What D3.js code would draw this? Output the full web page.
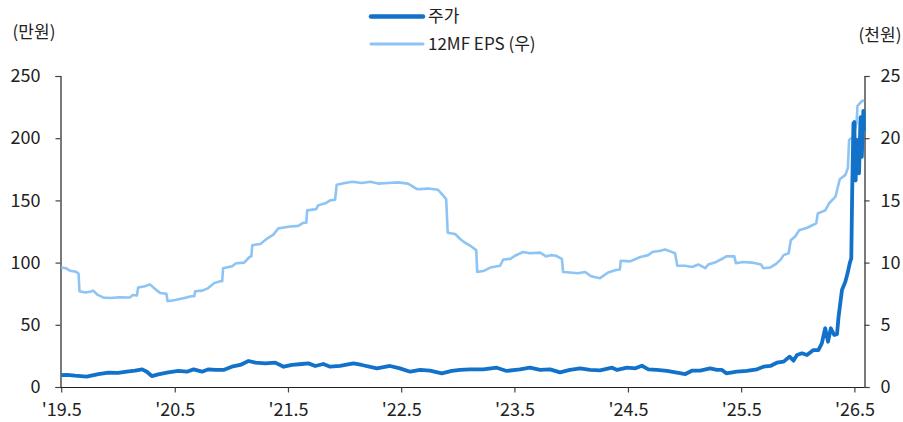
<!DOCTYPE html>
<html><head><meta charset="utf-8">
<script src="https://cdn.jsdelivr.net/npm/d3@7"></script>
<style>body{margin:0;background:#fff}svg{display:block}</style>
</head><body><svg id="c" width="903" height="422"></svg>
<script>
// ---- data ----
const seriesNames = ["주가", "12MF EPS (우)"];
const leftTitle = "(만원)";
const rightTitle = "(천원)";
const xTickDates = ["2019-05-01","2020-05-01","2021-05-01","2022-05-01","2023-05-01","2024-05-01","2025-05-01","2026-05-01"];
const xTickLabels = ["'19.5","'20.5","'21.5","'22.5","'23.5","'24.5","'25.5","'26.5"];
const leftTicks = [0,50,100,150,200,250];
const rightTicks = [0,5,10,15,20,25];

const priceDates = ["2019-05-01","2019-05-20","2019-06-14","2019-07-22","2019-08-29","2019-09-30","2019-11-01","2019-11-28","2019-12-25","2020-01-17","2020-02-01","2020-02-17","2020-03-09","2020-04-10","2020-05-13","2020-06-09","2020-07-01","2020-07-28","2020-08-18","2020-09-09","2020-10-05","2020-11-01","2020-11-28","2020-12-25","2021-01-16","2021-02-17","2021-03-21","2021-04-17","2021-05-14","2021-06-15","2021-07-06","2021-07-28","2021-08-23","2021-09-14","2021-10-16","2021-11-28","2021-12-25","2022-02-12","2022-03-26","2022-04-27","2022-05-30","2022-07-01","2022-08-02","2022-09-09","2022-10-11","2022-11-07","2022-12-09","2023-01-21","2023-03-05","2023-04-06","2023-05-19","2023-06-20","2023-07-23","2023-08-24","2023-09-25","2023-10-27","2023-11-29","2023-12-31","2024-02-01","2024-03-11","2024-03-27","2024-04-28","2024-05-25","2024-06-15","2024-07-06","2024-08-02","2024-09-04","2024-10-06","2024-11-02","2024-11-23","2024-12-20","2025-01-21","2025-02-12","2025-02-28","2025-03-14","2025-04-17","2025-05-19","2025-06-21","2025-07-12","2025-08-03","2025-08-24","2025-09-15","2025-10-04","2025-10-17","2025-10-28","2025-11-13","2025-11-29","2025-12-20","2026-01-05","2026-01-16","2026-01-27","2026-02-05","2026-02-14","2026-02-25","2026-03-06","2026-03-11","2026-03-22","2026-04-02","2026-04-09","2026-04-16","2026-04-21","2026-04-24","2026-04-28","2026-05-01","2026-05-03","2026-05-05","2026-05-08","2026-05-10","2026-05-13","2026-05-16","2026-05-19","2026-05-21","2026-05-23","2026-05-25","2026-05-28","2026-05-30","2026-06-01"];
const priceValues = [9.6,9.8,9.1,8.3,10.4,11.5,11.3,12.3,13.1,14.2,12.3,8.8,10.2,11.8,12.9,12.3,14.2,12.3,14.2,13.7,13.7,16.3,17.7,20.9,19.6,19.0,19.6,16.3,17.7,18.5,19.0,16.9,18.5,16.3,16.9,19.0,17.7,15.0,16.9,15.0,12.3,13.7,13.1,11.0,12.9,13.7,14.2,14.2,15.5,12.9,14.2,15.5,13.7,14.2,11.8,13.7,15.0,13.7,13.4,15.5,13.7,15.5,15.0,17.1,14.2,13.7,12.9,11.5,10.4,13.1,13.1,15.0,13.7,13.7,11.0,12.3,12.9,14.2,16.3,16.9,19.5,20.4,24.4,21.2,25.7,27.1,25.7,29.7,29.7,35.1,47.2,36.4,47.2,41.8,42.5,56.5,78.0,84.7,91.4,99.4,103.5,158,212,213,175,166,190,198.6,180,171.8,200,217,195,185,210,222,206];

const epsDates = ["2019-05-01","2019-05-16","2019-05-29","2019-06-18","2019-06-26","2019-06-29","2019-07-17","2019-08-02","2019-08-12","2019-08-27","2019-09-13","2019-10-05","2019-11-06","2019-12-08","2019-12-18","2019-12-31","2020-01-04","2020-01-26","2020-02-11","2020-02-27","2020-03-15","2020-04-04","2020-04-08","2020-05-03","2020-06-01","2020-06-23","2020-07-03","2020-07-06","2020-07-29","2020-08-17","2020-09-05","2020-09-25","2020-10-01","2020-10-04","2020-11-02","2020-11-15","2020-12-11","2020-12-28","2021-01-03","2021-01-06","2021-02-01","2021-02-24","2021-03-15","2021-03-31","2021-04-13","2021-05-08","2021-06-03","2021-06-19","2021-06-29","2021-07-02","2021-07-31","2021-08-06","2021-09-01","2021-09-14","2021-09-30","2021-10-05","2021-11-01","2021-11-24","2021-12-26","2022-01-21","2022-02-16","2022-03-20","2022-04-21","2022-05-23","2022-06-08","2022-06-21","2022-07-27","2022-08-28","2022-09-13","2022-09-23","2022-09-28","2022-10-22","2022-11-07","2022-11-23","2022-12-13","2022-12-29","2023-01-01","2023-01-24","2023-02-12","2023-03-16","2023-03-26","2023-04-18","2023-05-03","2023-05-29","2023-06-20","2023-07-23","2023-08-11","2023-08-27","2023-09-12","2023-10-01","2023-10-05","2023-10-27","2023-11-22","2023-12-15","2024-01-03","2024-02-01","2024-02-27","2024-03-24","2024-04-05","2024-04-08","2024-05-08","2024-06-10","2024-07-05","2024-07-19","2024-08-13","2024-08-29","2024-09-14","2024-09-30","2024-10-07","2024-11-02","2024-11-24","2024-12-14","2025-01-05","2025-01-15","2025-02-10","2025-03-04","2025-03-14","2025-04-09","2025-04-14","2025-05-07","2025-06-05","2025-07-04","2025-07-11","2025-08-02","2025-08-19","2025-09-04","2025-09-15","2025-10-01","2025-10-08","2025-10-22","2025-11-04","2025-11-30","2025-12-16","2025-12-29","2026-01-03","2026-01-27","2026-02-08","2026-03-01","2026-03-15","2026-04-02","2026-04-10","2026-04-14","2026-04-27","2026-05-08","2026-05-11","2026-05-24","2026-06-01"];
const epsValues = [9.6,9.55,9.35,9.27,9.1,7.7,7.6,7.65,7.75,7.4,7.2,7.15,7.22,7.2,7.4,7.35,8.0,8.1,8.25,7.9,7.55,7.5,6.9,7.0,7.15,7.3,7.3,7.7,7.75,7.95,8.35,8.5,8.5,9.55,9.7,9.95,10.0,10.45,10.5,11.4,11.5,11.95,12.25,12.75,12.8,12.9,12.95,13.2,13.2,14.2,14.3,14.6,14.8,15.0,15.05,16.25,16.4,16.5,16.4,16.5,16.35,16.4,16.45,16.35,16.1,15.9,15.95,15.85,15.4,15.1,12.4,12.3,11.9,11.6,11.3,11.0,9.25,9.35,9.6,9.75,10.25,10.3,10.55,10.85,10.75,10.8,10.5,10.6,10.55,10.3,9.25,9.2,9.15,9.25,8.9,8.75,9.2,9.4,9.45,10.15,10.1,10.45,10.6,10.85,10.95,11.05,10.9,10.75,9.75,9.75,9.65,9.85,9.55,9.85,10.05,10.35,10.5,10.5,9.95,10.05,10.0,9.85,9.55,9.6,9.85,10.2,10.6,10.75,11.8,12.1,12.6,12.8,13.0,13.15,13.95,14.2,14.75,15.3,16.7,17.05,17.6,19.85,20.1,21.2,22.6,22.95,23.05];

// ---- chart ----
const parse = d3.timeParse("%Y-%m-%d");
const price = priceDates.map((d,i)=>({date:parse(d), v:priceValues[i]}));
const eps = epsDates.map((d,i)=>({date:parse(d), v:epsValues[i]}));

const COL_PRICE = "#1271C8", COL_EPS = "#8EC4F4";
const FONT = "'Noto Sans CJK KR','Noto Sans',sans-serif";
const svg = d3.select("#c");

const x = d3.scaleTime().domain([parse("2019-05-01"), parse("2026-06-01")]).range([61.2, 864]);
const yL = d3.scaleLinear().domain([0,250]).range([387,76]);
const yR = d3.scaleLinear().domain([0,25]).range([387,76]);

// x axis
const xAxis = d3.axisBottom(x).tickValues(xTickDates.map(parse))
  .tickFormat((d,i)=>xTickLabels[i]).tickSize(5).tickSizeOuter(0).tickPadding(7);
const gx = svg.append("g").attr("transform","translate(0,387.5)").call(xAxis);
gx.select(".domain").attr("d","M60.5,0H864.5").attr("stroke","#222").attr("stroke-width",1.2);

// left axis
const gl = svg.append("g").attr("transform","translate(60.5,0)")
  .call(d3.axisLeft(yL).tickValues(leftTicks).tickSize(5).tickSizeOuter(5).tickPadding(15));
// right axis
const gr = svg.append("g").attr("transform","translate(864.5,0)")
  .call(d3.axisRight(yR).tickValues(rightTicks).tickSize(5).tickSizeOuter(5).tickPadding(11));

[gx,gl,gr].forEach(g=>{
  g.selectAll("text").attr("font-family",FONT).attr("font-size",18).attr("fill","#222");
  g.selectAll(".tick line").attr("stroke","#444").attr("stroke-width",1.2);
});
gl.select(".domain").attr("stroke","#222").attr("stroke-width",1.2);
gr.select(".domain").attr("stroke","#222").attr("stroke-width",1.2);
gx.selectAll("text").attr("dy","0.9em");

// lines
svg.append("path").datum(eps)
  .attr("d", d3.line().x(d=>x(d.date)).y(d=>yR(d.v)))
  .attr("fill","none").attr("stroke",COL_EPS).attr("stroke-width",2.6).attr("stroke-linejoin","round");
svg.append("path").datum(price)
  .attr("d", d3.line().x(d=>x(d.date)).y(d=>yL(d.v)))
  .attr("fill","none").attr("stroke",COL_PRICE).attr("stroke-width",3.8).attr("stroke-linejoin","round");

// axis titles
svg.append("text").attr("x",34).attr("y",38).attr("text-anchor","middle")
  .attr("font-family",FONT).attr("font-size",17).attr("fill","#222").text(leftTitle);
svg.append("text").attr("x",880).attr("y",41).attr("text-anchor","middle")
  .attr("font-family",FONT).attr("font-size",17).attr("fill","#222").text(rightTitle);

// legend
const legend = [{name:seriesNames[0], c:COL_PRICE, w:4.5, y:16.5},{name:seriesNames[1], c:COL_EPS, w:3, y:44}];
legend.forEach(l=>{
  svg.append("line").attr("x1",371).attr("x2",423).attr("y1",l.y).attr("y2",l.y)
    .attr("stroke",l.c).attr("stroke-width",l.w).attr("stroke-linecap","round");
  svg.append("text").attr("x",428).attr("y",l.y).attr("dy","0.35em")
    .attr("font-family",FONT).attr("font-size",17).attr("fill","#222").text(l.name);
});
</script></body></html>
